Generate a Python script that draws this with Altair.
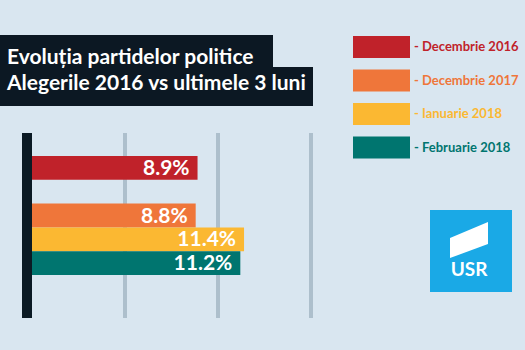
import altair as alt
import pandas as pd

# ---- data ----
periods = ["Decembrie 2016", "Decembrie 2017", "Ianuarie 2018", "Februarie 2018"]
values = [8.9, 8.8, 11.4, 11.2]
labels = ["8.9%", "8.8%", "11.4%", "11.2%"]
colors = ["#c0222a", "#ef763a", "#fbb832", "#00756f"]
grid_ticks = [5, 10, 15]
title_lines = ["Evoluția partidelor politice", "Alegerile 2016 vs ultimele 3 luni"]
logo_text = "USR"

BG = "#d9e6f0"
NAVY = "#0c1823"
FONT = "Lato"

bars_df = pd.DataFrame({"period": periods, "value": values, "label": labels})
legend_df = pd.DataFrame({"period": periods, "legend": ["- " + p for p in periods]})
grid_df = pd.DataFrame({"value": grid_ticks})

xscale = alt.Scale(domain=[0, 15], range=[32, 311])
color_scale = alt.Scale(domain=periods, range=colors)
band_domain = [periods[0], " "] + periods[1:]
yband = alt.Scale(domain=band_domain, range=[156, 275], paddingInner=0, paddingOuter=0)

one = alt.Data(values=[{}])

# title boxes
tbox1 = alt.Chart(one).mark_rect(color=NAVY).encode(
    x=alt.value(0), x2=alt.value(273), y=alt.value(35), y2=alt.value(68))
tbox2 = alt.Chart(one).mark_rect(color=NAVY).encode(
    x=alt.value(0), x2=alt.value(313), y=alt.value(67), y2=alt.value(106))
ttext1 = alt.Chart(one).mark_text(
    align="left", baseline="alphabetic", font=FONT, fontWeight="bold",
    fontSize=21, color="white").encode(
    x=alt.value(7), y=alt.value(64), text=alt.value(title_lines[0]))
ttext2 = alt.Chart(one).mark_text(
    align="left", baseline="alphabetic", font=FONT, fontWeight="bold",
    fontSize=21, color="white").encode(
    x=alt.value(7), y=alt.value(90), text=alt.value(title_lines[1]))

# gridlines
grid = alt.Chart(grid_df).mark_rule(color="#adbfcc", strokeWidth=4).encode(
    x=alt.X("value:Q", scale=xscale, axis=None),
    y=alt.value(133), y2=alt.value(318))

# axis bar
axis_bar = alt.Chart(one).mark_rect(color="#0b1a24").encode(
    x=alt.value(22), x2=alt.value(32), y=alt.value(133), y2=alt.value(318))

bars = alt.Chart(bars_df).mark_bar().encode(
    x=alt.X("value:Q", scale=xscale, axis=None),
    y=alt.Y("period:N", scale=yband, axis=None),
    color=alt.Color("period:N", scale=color_scale, legend=None))
bar_text = alt.Chart(bars_df).mark_text(
    align="right", baseline="middle", dx=-8, dy=1, font=FONT, fontWeight="bold",
    fontSize=21, color="white").encode(
    x=alt.X("value:Q", scale=xscale, axis=None),
    y=alt.Y("period:N", scale=yband, axis=None),
    text="label:N")

bar_layer = alt.layer(grid, axis_bar, bars, bar_text)

# legend
ypoint = alt.Scale(domain=periods, range=[47, 147.5], type="point", padding=0)
leg_sw = alt.Chart(legend_df).mark_point(
    shape="M-1,-0.386H1V0.386H-1Z", size=57 * 57, filled=True, opacity=1).encode(
    x=alt.value(381.5),
    y=alt.Y("period:N", scale=ypoint, axis=None),
    color=alt.Color("period:N", scale=color_scale, legend=None))
leg_txt = alt.Chart(legend_df).mark_text(
    align="left", baseline="middle", font=FONT, fontWeight="bold", fontSize=13).encode(
    x=alt.value(414),
    y=alt.Y("period:N", scale=ypoint, axis=None),
    color=alt.Color("period:N", scale=color_scale, legend=None),
    text="legend:N")
legend_layer = alt.layer(leg_sw, leg_txt)

# logo
logo_box = alt.Chart(one).mark_rect(color="#1aa9e6").encode(
    x=alt.value(430), x2=alt.value(512), y=alt.value(210), y2=alt.value(292))
logo_shape = alt.Chart(one).mark_point(
    shape="M-1,-0.1L1,-0.95L1,0.21L-1,0.95Z", size=38 * 38, filled=True,
    color="white", opacity=1).encode(x=alt.value(469), y=alt.value(240))
logo_txt = alt.Chart(one).mark_text(
    align="center", baseline="alphabetic", font=FONT, fontWeight="bold",
    fontSize=19, color="white").encode(
    x=alt.value(469), y=alt.value(276), text=alt.value(logo_text))

chart = alt.layer(
    tbox1, tbox2, ttext1, ttext2, bar_layer, legend_layer,
    logo_box, logo_shape, logo_txt
).resolve_scale(y="independent").properties(
    width=525, height=350, padding=0, autosize="none", background=BG
).configure_view(stroke=None)

chart.save("out.html", embed_options={"renderer": "svg", "actions": False})
